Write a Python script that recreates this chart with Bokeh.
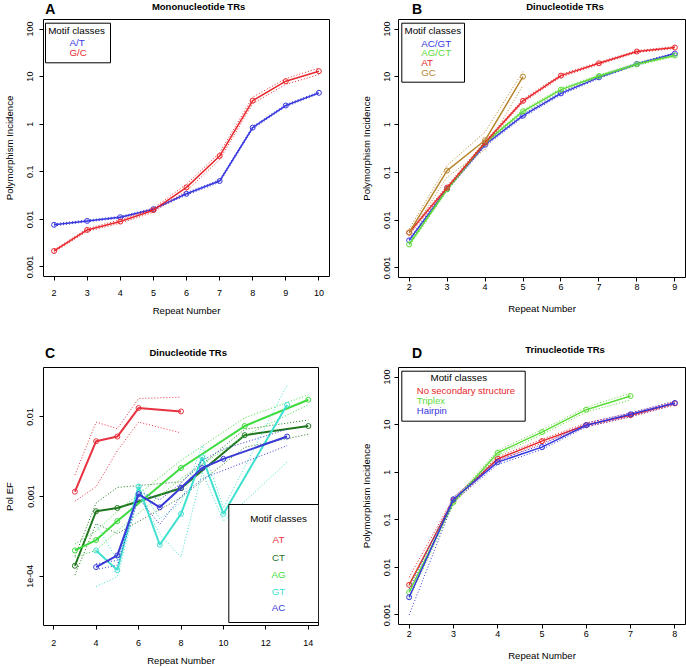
import math
from bokeh.plotting import figure
from bokeh.layouts import column, row
from bokeh.models import Range1d, FixedTicker, Label, BoxAnnotation
from bokeh.embed import file_html
from bokeh.resources import INLINE

# ---------------- data ----------------
log_ticks = [0.001, 0.01, 0.1, 1, 10, 100]
log_tick_labels = ["0.001", "0.01", "0.1", "1", "10", "100"]
c_ticks = [0.0001, 0.001, 0.01]
c_tick_labels = ["1e-04", "0.001", "0.01"]

# Panel A - Mononucleotide TRs
a_x = [2, 3, 4, 5, 6, 7, 8, 9, 10]
a_at = [0.0077, 0.0093, 0.0111, 0.0164, 0.0345, 0.064, 0.85, 2.47, 4.56]
a_at_hi = [0.0081, 0.0097, 0.0116, 0.0171, 0.0365, 0.068, 0.90, 2.60, 4.80]
a_at_lo = [0.0073, 0.0089, 0.0106, 0.0157, 0.0325, 0.060, 0.80, 2.35, 4.35]
a_gc = [0.00217, 0.0060, 0.0090, 0.0156, 0.047, 0.214, 3.14, 8.0, 13.0]
a_gc_hi = [0.0023, 0.0064, 0.0098, 0.0172, 0.055, 0.25, 3.7, 9.1, 15.1]
a_gc_lo = [0.00205, 0.0056, 0.0083, 0.0142, 0.040, 0.18, 2.7, 6.9, 11.0]

# Panel B - Dinucleotide TRs
b_x = [2, 3, 4, 5, 6, 7, 8, 9]
b_acgt = [0.00377, 0.045, 0.38, 1.54, 4.5, 9.75, 18.6, 30.7]
b_acgt_hi = [0.0041, 0.048, 0.41, 1.65, 4.8, 10.3, 19.5, 32.0]
b_acgt_lo = [0.0034, 0.042, 0.35, 1.43, 4.2, 9.2, 17.7, 29.4]
b_agct = [0.0031, 0.044, 0.42, 1.9, 5.4, 10.4, 18.3, 28.0]
b_agct_hi = [0.0034, 0.047, 0.45, 2.05, 5.8, 11.0, 19.3, 29.5]
b_agct_lo = [0.0028, 0.041, 0.39, 1.75, 5.0, 9.8, 17.3, 26.5]
b_at = [0.0055, 0.048, 0.42, 3.14, 10.6, 19.2, 33.9, 41.0]
b_at_hi = [0.0060, 0.052, 0.45, 3.4, 11.3, 20.3, 35.5, 43.0]
b_at_lo = [0.0050, 0.044, 0.39, 2.9, 9.9, 18.1, 32.3, 39.0]
b_gc_x = [2, 3, 4, 5]
b_gc = [0.0055, 0.109, 0.47, 10.1]
b_gc_hi = [0.0065, 0.14, 0.70, 13.0]
b_gc_lo = [0.0046, 0.08, 0.30, 6.7]

# Panel C - Dinucleotide TRs (Pol EF)
c_at_x = [3, 4, 5, 6, 8]
c_at = [0.00115, 0.00495, 0.00566, 0.0129, 0.0117]
c_at_hi = [0.00186, 0.0086, 0.0071, 0.0170, 0.0177]
c_at_lo = [0.00087, 0.00133, 0.00377, 0.0086, 0.0063]
c_ct_x = [3, 4, 5, 8, 11, 14]
c_ct = [0.000135, 0.000653, 0.000718, 0.00127, 0.00589, 0.00767]
c_ct_hi = [0.000178, 0.000828, 0.00130, 0.00153, 0.00698, 0.00912]
c_ct_lo = [0.000103, 0.000455, 0.000343, 0.00097, 0.00414, 0.00605]
c_ag_x = [3, 4, 5, 8, 11, 14]
c_ag = [0.00021, 0.000284, 0.000491, 0.00228, 0.00767, 0.0164]
c_ag_hi = [0.000253, 0.00037, 0.000653, 0.00284, 0.00973, 0.0189]
c_ag_lo = [0.000173, 0.00021, 0.00037, 0.00168, 0.00577, 0.0142]
c_gt_x = [4, 5, 6, 7, 8, 9, 10, 13]
c_gt = [0.00021, 0.000119, 0.00133, 0.000248, 0.000605, 0.00312, 0.000605, 0.0142]
c_gt_hi = [0.000447, 0.000158, 0.00146, 0.00052, 0.00085, 0.00435, 0.000718, 0.0251]
c_gt_lo = [0.0000738, 0.0000982, 0.00105, 0.000337, 0.000173, 0.00204, 0.000491, 0.0027]
c_ac_x = [4, 5, 6, 7, 8, 9, 10, 13]
c_ac = [0.00013, 0.000182, 0.00107, 0.000731, 0.00129, 0.00228, 0.00297, 0.00566]
c_ac_hi = [0.000143, 0.000158, 0.00115, 0.00091, 0.00146, 0.00284, 0.00395, 0.00698]
c_ac_lo = [0.000121, 0.000137, 0.000953, 0.000447, 0.0010, 0.00168, 0.00213, 0.00435]

# Panel D - Trinucleotide TRs
d_x = [2, 3, 4, 5, 6, 7, 8]
d_nss = [0.0043, 0.26, 1.91, 4.5, 9.8, 15.8, 28.0]
d_nss_hi = [0.0062, 0.29, 2.1, 4.9, 10.8, 17.3, 30.5]
d_nss_lo = [0.0030, 0.23, 1.73, 4.1, 9.0, 14.5, 26.0]
d_tri_x = [2, 3, 4, 5, 6, 7]
d_tri = [0.0030, 0.234, 2.56, 6.97, 20.6, 39.8]
d_tri_hi = [0.0041, 0.26, 2.85, 7.8, 23.0, 46.0]
d_tri_lo = [0.0022, 0.21, 2.3, 6.2, 18.3, 33.0]
d_hp = [0.00236, 0.27, 1.63, 3.37, 9.7, 16.5, 28.5]
d_hp_hi = [0.0035, 0.30, 1.8, 3.75, 10.7, 17.8, 31.0]
d_hp_lo = [0.0010, 0.24, 1.45, 3.0, 9.0, 14.8, 26.3]

# ---------------- style ----------------
BLUE = "#3636E0"
RED = "#E8262B"
LGREEN = "#5EDC3A"
BROWN = "#B8862E"
DGREEN = "#1F761F"
TURQ = "#40E0D0"
C_RED = "#E8323F"
C_GREEN = "#3EDC3E"
C_BLUE = "#3A3AD6"

FONT = "Liberation Sans"
S = 1.0
W, H = 343, 334


class Panel:
    def __init__(self, cx0, cy0, fl, ft, fr, fb, xr, xt, yr, yt, ylabs, ylabel,
                 xstand, xlstand, ystand, ylstand):
        self.cx0, self.cy0 = cx0, cy0
        bl = round((fl - cx0) * S)
        bt = round((ft - cy0) * S)
        br = W - round((fr - cx0) * S)
        bb = H - round((fb - cy0) * S)
        self.hh = bt - 2
        self.bl, self.bb = bl, bb
        hdr = figure(width=W, height=self.hh, x_range=Range1d(0, W),
                     y_range=Range1d(0, self.hh), toolbar_location=None,
                     output_backend="svg", title=None, min_border=0,
                     x_axis_location=None, y_axis_location=None)
        hdr.outline_line_color = None
        hdr.grid.visible = False
        hdr.background_fill_color = "white"
        hdr.border_fill_color = "white"
        self.hdr = hdr
        p = figure(width=W, height=H - self.hh, x_range=Range1d(*xr),
                   y_range=Range1d(*yr), y_axis_type="log",
                   output_backend="svg", toolbar_location=None, title=None,
                   min_border_left=bl, min_border_right=br,
                   min_border_top=2, min_border_bottom=bb)
        p.background_fill_color = "white"
        p.border_fill_color = "white"
        p.outline_line_color = "black"
        p.outline_line_width = 1
        p.xgrid.visible = False
        p.ygrid.visible = False
        p.xaxis.ticker = FixedTicker(ticks=xt)
        p.yaxis.ticker = FixedTicker(ticks=yt)
        p.yaxis.major_label_overrides = dict(zip(yt, ylabs))
        p.yaxis.major_label_orientation = "vertical"
        for ax in (p.xaxis, p.yaxis):
            ax.axis_line_color = None
            ax.major_tick_out = 4
            ax.major_tick_in = 0
            ax.minor_tick_line_color = None
            ax.major_tick_line_color = "black"
            ax.major_label_text_font = FONT
            ax.major_label_text_font_size = "9px"
            ax.major_label_text_color = "black"
            ax.axis_label_text_font = FONT
            ax.axis_label_text_font_size = "9.6px"
            ax.axis_label_text_font_style = "normal"
            ax.axis_label_text_color = "black"
        p.xaxis.axis_label = "Repeat Number"
        p.yaxis.axis_label = ylabel
        p.xaxis.major_label_standoff = xstand
        p.xaxis.axis_label_standoff = xlstand
        p.yaxis.major_label_standoff = ystand
        p.yaxis.axis_label_standoff = ylstand
        self.p = p

    def scr(self, X, Y):
        return ((X - self.cx0) * S - self.bl, (H - self.bb) - (Y - self.cy0) * S)

    def series(self, x, y, hi, lo, color, lw=1.5, size=5):
        p = self.p
        p.line(x, hi, line_color=color, line_width=1, line_dash="1 2")
        p.line(x, lo, line_color=color, line_width=1, line_dash="1 2")
        p.line(x, y, line_color=color, line_width=lw)
        p.scatter(x, y, size=size, fill_color=None, line_color=color, line_width=1)

    def text(self, X, Y, s, size, color="black", align="left"):
        sx, sy = self.scr(X, Y)
        self.p.add_layout(Label(x=sx, y=sy, x_units="screen", y_units="screen",
                                text=s, text_font=FONT, text_font_size=size,
                                text_color=color, text_align=align,
                                text_baseline="middle"))

    def head(self, X, Y, s, size, align):
        hx = (X - self.cx0) * S
        hy = self.hh - (Y - self.cy0) * S
        self.hdr.add_layout(Label(x=hx, y=hy, text=s, text_font=FONT,
                                  text_font_size=size, text_color="black",
                                  text_font_style="bold", text_align=align,
                                  text_baseline="middle"))

    def box(self, X0, Y0, X1, Y1):
        l, t = self.scr(X0, Y0)
        r, b = self.scr(X1, Y1)
        self.p.add_layout(BoxAnnotation(left=l, right=r, top=t, bottom=b,
                                        left_units="screen", right_units="screen",
                                        top_units="screen", bottom_units="screen",
                                        fill_color="white", fill_alpha=1.0,
                                        line_color="black", line_alpha=1.0,
                                        line_width=1, level="annotation"))

    def layout(self):
        return column(self.hdr, self.p, spacing=0)


LOGR = (10 ** -3.2, 10 ** 2.2)

# ---- Panel A ----
A = Panel(0, 0, 43, 19, 329, 276, (1.68, 10.32), a_x, LOGR, log_ticks,
          log_tick_labels, "Polymorphism Incidence", 9, 6, 6, 10)
A.series(a_x, a_at, a_at_hi, a_at_lo, BLUE)
A.series(a_x, a_gc, a_gc_hi, a_gc_lo, RED)
A.box(45, 22.7, 110, 62.3)
A.text(47.7, 29.5, "Motif classes", "9.8px")
A.text(69, 41.5, "A/T", "9.8px", BLUE)
A.text(69, 51.5, "G/C", "9.8px", RED)
A.head(186, 5.5, "Mononucleotide TRs", "9.5px", "center")
A.head(2, 8.5, "A", "14px", "left")

# ---- Panel B ----
B = Panel(343, 0, 398, 19, 685, 277, (1.72, 9.28), b_x, LOGR, log_ticks,
          log_tick_labels, "Polymorphism Incidence", 2, 10, 4, 10)
B.series(b_x, b_acgt, b_acgt_hi, b_acgt_lo, BLUE)
B.series(b_x, b_agct, b_agct_hi, b_agct_lo, LGREEN)
B.series(b_x, b_at, b_at_hi, b_at_lo, RED)
B.series(b_gc_x, b_gc, b_gc_hi, b_gc_lo, BROWN)
B.box(401.3, 22.7, 464, 81.7)
B.text(404, 29.5, "Motif classes", "9.8px")
B.text(420.7, 42.7, "AC/GT", "9.8px", BLUE)
B.text(420.7, 52.3, "AG/CT", "9.8px", LGREEN)
B.text(420.7, 62, "AT", "9.8px", RED)
B.text(420.7, 71.7, "GC", "9.8px", BROWN)
B.head(542, 5.5, "Dinucleotide TRs", "9.5px", "center")
B.head(359, 8.5, "B", "14px", "left")

# ---- Panel C ----
C = Panel(0, 334, 43, 367, 318, 630, (1.52, 14.48), [2, 4, 6, 8, 10, 12, 14],
          (10 ** -4.62, 10 ** -1.38), c_ticks, c_tick_labels, "Pol EF", 10, 6, 6, 10)
C.series(c_at_x, c_at, c_at_hi, c_at_lo, C_RED, lw=2)
C.series(c_ct_x, c_ct, c_ct_hi, c_ct_lo, DGREEN, lw=2)
C.series(c_ag_x, c_ag, c_ag_hi, c_ag_lo, C_GREEN, lw=2)
C.series(c_gt_x, c_gt, c_gt_hi, c_gt_lo, TURQ, lw=2)
C.series(c_ac_x, c_ac, c_ac_hi, c_ac_lo, C_BLUE, lw=2)
C.box(228.3, 509, 318, 627)
C.text(278, 523.3, "Motif classes", "9.8px", align="center")
C.text(278, 544, "AT", "9.8px", C_RED, align="center")
C.text(278, 561.7, "CT", "9.8px", DGREEN, align="center")
C.text(278, 579, "AG", "9.8px", C_GREEN, align="center")
C.text(278, 595.7, "GT", "9.8px", TURQ, align="center")
C.text(278, 612, "AC", "9.8px", C_BLUE, align="center")
C.head(180.5, 352, "Dinucleotide TRs", "9.5px", "center")
C.head(2, 352, "C", "14px", "left")

# ---- Panel D ----
D = Panel(343, 334, 398, 367, 685, 624, (1.76, 8.24), d_x, LOGR, log_ticks,
          log_tick_labels, "Polymorphism Incidence", 2, 10, 4, 10)
D.series(d_x, d_nss, d_nss_hi, d_nss_lo, RED)
D.series(d_tri_x, d_tri, d_tri_hi, d_tri_lo, LGREEN)
D.series(d_x, d_hp, d_hp_hi, d_hp_lo, BLUE)
D.box(401.3, 370.7, 524.7, 420.7)
D.text(458.3, 377.3, "Motif classes", "9.8px", align="center")
D.text(416.3, 390, "No secondary structure", "9.5px", RED)
D.text(416.3, 400, "Triplex", "9.5px", LGREEN)
D.text(416.3, 410, "Hairpin", "9.5px", BLUE)
D.head(542, 348.5, "Trinucleotide TRs", "9.5px", "center")
D.head(359, 352, "D", "14px", "left")

page = column(row(A.layout(), B.layout(), spacing=0),
              row(C.layout(), D.layout(), spacing=0), spacing=0)
open("out.html", "w").write(file_html(page, INLINE))
